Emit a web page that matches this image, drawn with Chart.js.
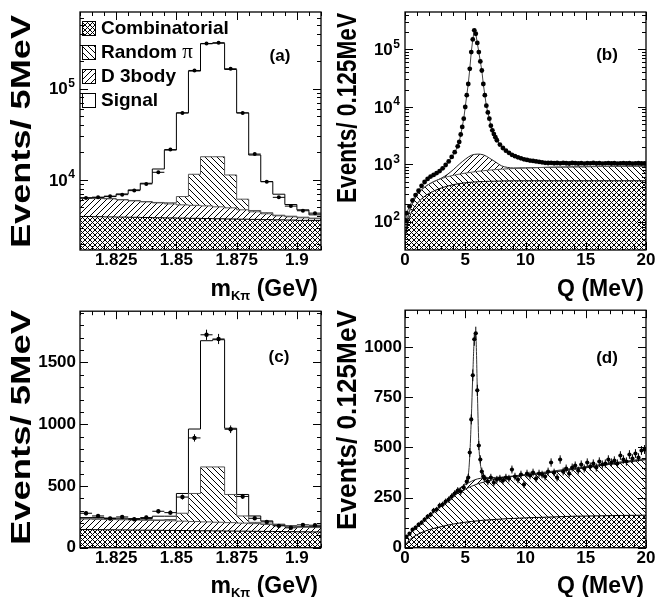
<!DOCTYPE html>
<html>
<head>
<meta charset="utf-8">
<script src="https://cdn.jsdelivr.net/npm/chart.js@4.4.1/dist/chart.umd.min.js"></script>
<style>
  body { margin: 0; background: #fff; }
  #wrap { position: relative; width: 668px; height: 597px; background: #fff; }
  #wrap canvas { position: absolute; }
</style>
</head>
<body>
<div id="wrap">
  <canvas id="panelA" width="334" height="302" style="left:0;top:0"></canvas>
  <canvas id="panelB" width="334" height="302" style="left:334px;top:0"></canvas>
  <canvas id="panelC" width="334" height="300" style="left:0;top:297px"></canvas>
  <canvas id="panelD" width="334" height="300" style="left:334px;top:297px"></canvas>
</div>
<script>
const FONT = "'Liberation Sans', Arial, Helvetica, sans-serif";

// m(K pi) histograms: 1.81 - 1.91 GeV, 5 MeV bins
const MASS_MIN = 1.81;
const MASS_MAX = 1.91;
const MASS_BIN = 0.005;
const massTickLabels = [1.825, 1.85, 1.875, 1.9];
const qTickLabels = [0, 5, 10, 15, 20];
const cTickLabels = [0, 500, 1000, 1500];
const dTickLabels = [0, 250, 500, 750, 1000];

// panel (a) - yields per bin
const aComb = [3980, 3960, 3940, 3920, 3900, 3880, 3860, 3840, 3820, 3800, 3780, 3760, 3740, 3720, 3700, 3680, 3660, 3640, 3610, 3590];
const aThreeBody = [2320, 2290, 2270, 2130, 2000, 1870, 1750, 1630, 1515, 1470, 1420, 1320, 1210, 990, 780, 580, 390, 310, 240, 170];
const aRandomPi = [60, 60, 60, 60, 60, 60, 60, 150, 1245, 6270, 12750, 12870, 6390, 1450, 150, 120, 60, 60, 60, 60];
const aSignal = [50, 100, 310, 920, 1820, 3390, 7510, 15620, 47620, 144060, 291750, 296050, 150660, 48040, 14110, 5200, 2870, 1370, 800, 330];
const aData = [6340, 6480, 6650, 6900, 7640, 9050, 12130, 21500, 54200, 158000, 312000, 318000, 165000, 54200, 19200, 9580, 6450, 5170, 4600, 4330];

// panel (c) - yields per bin
const cComb = [147, 146, 145, 144, 143, 142, 141, 140, 139, 138, 137, 136, 135, 134, 133, 132, 131, 130, 129, 128];
const cThreeBody = [85, 84, 83, 82, 81, 80, 79, 78, 76, 74, 72, 70, 68, 65, 62, 56, 49, 40, 36, 35];
const cRandomPi = [5, 5, 5, 5, 5, 5, 5, 10, 64, 227, 445, 448, 228, 58, 10, 4, 4, 4, 4, 4];
const cSignal = [7, 9, 7, 7, 7, 9, 30, 27, 160, 522, 1022, 1030, 536, 174, 52, 25, 6, 3, 3, 5];
const cData = [279, 257, 236, 249, 230, 244, 295, 284, 410, 889, 1724, 1690, 959, 415, 238, 209, 177, 161, 185, 182];

// Q curves (b) and (d): fit components on a common grid
const curveQ = [0, 0.25, 0.5, 1, 1.5, 2, 2.5, 3, 3.5, 4, 4.5, 5, 5.5, 6, 6.5, 7, 7.5, 8, 8.5, 9, 10, 12, 14, 16, 18, 20];
const bComb = [50, 95, 140, 205, 262, 310, 350, 385, 415, 440, 460, 475, 486, 495, 500, 505, 508, 511, 513, 514, 515, 515, 515, 515, 515, 515];
const bRandomPi = [5, 25, 40, 85, 118, 140, 160, 175, 190, 200, 212, 225, 239, 255, 270, 285, 297, 309, 319, 328, 345, 370, 385, 397, 407, 415];
const bThreeBody = [0, 0, 0, 0, 0, 0, 0, 10, 55, 160, 328, 520, 705, 750, 690, 490, 295, 120, 48, 18, 5, 0, 0, 0, 0, 0];
const dComb = [10, 32, 45, 65, 79, 90, 98, 105, 112, 118, 123, 127, 131, 134, 137, 139, 141, 143, 145, 146, 149, 153, 157, 159, 161, 162];
const dRandomPi = [30, 28, 30, 40, 54, 70, 88, 105, 123, 140, 153, 165, 175, 184, 190, 196, 201, 205, 207, 210, 213, 222, 235, 249, 263, 278];
const dThreeBody = [0, 0, 0, 0, 0, 0, 0, 0, 3, 12, 18, 22, 25, 25, 20, 12, 5, 2, 0, 0, 0, 0, 0, 0, 0, 0];

// panel (d) total fit
const dFitQ = [0, 0.25, 0.5, 1, 1.5, 2, 2.5, 3, 3.5, 4, 4.5, 5, 5.25, 5.375, 5.5, 5.625, 5.75, 5.875, 6, 6.125, 6.25, 6.5, 7, 8, 9, 10, 12, 14, 16, 18, 20];
const dFit = [45, 62, 78, 108, 136, 162, 188, 212, 240, 272, 296, 322, 360, 460, 640, 860, 1040, 1060, 790, 520, 420, 365, 350, 352, 358, 365, 380, 397, 413, 429, 445];

// panel (b) data points
const bDataQ = [0.0625, 0.125, 0.375, 0.625, 0.875, 1.125, 1.375, 1.625, 1.875, 2.125, 2.375, 2.625, 2.875, 3.125, 3.375, 3.625, 3.875,
  4.125, 4.375, 4.5, 4.625, 4.75, 4.875, 5, 5.125, 5.25, 5.375, 5.5, 5.625, 5.75, 5.875, 6, 6.125, 6.25, 6.375, 6.5, 6.625, 6.75, 6.875,
  7, 7.125, 7.25, 7.375, 7.5, 7.625, 7.875, 8.125, 8.375, 8.625, 8.875, 9.125, 9.375, 9.625, 9.875, 10.125, 10.375, 10.625, 10.875,
  11.125, 11.375, 11.625, 11.875, 12.125, 12.375, 12.625, 12.875, 13.125, 13.375, 13.625, 13.875, 14.125, 14.375, 14.625, 14.875,
  15.125, 15.375, 15.625, 15.875, 16.125, 16.375, 16.625, 16.875, 17.125, 17.375, 17.625, 17.875, 18.125, 18.375, 18.625, 18.875,
  19.125, 19.375, 19.625, 19.875];
const bData = [105, 140, 185, 235, 290, 345, 420, 490, 555, 610, 650, 700, 760, 850, 970, 1120, 1340,
  1620, 2050, 2450, 3300, 4460, 6230, 9950, 16000, 25000, 46000, 90000, 150000, 216000, 188000, 130000, 90000, 62000, 43000, 25000, 16000, 10500, 8000,
  6230, 4700, 3900, 3350, 2950, 2620, 2200, 1920, 1720, 1580, 1460, 1380, 1320, 1270, 1220, 1190, 1160, 1140, 1120,
  1100, 1080, 1060, 1050, 1060, 1040, 1050, 1035, 1055, 1040, 1030, 1050, 1040, 1030, 1045, 1025,
  1040, 1035, 1050, 1030, 1040, 1025, 1035, 1045, 1030, 1040, 1025, 1035, 1045, 1030, 1040, 1025,
  1035, 1040, 1030, 1035];

// panel (d) data points
const dDataQ = [0.125, 0.375, 0.625, 0.875, 1.125, 1.375, 1.625, 1.875, 2.125, 2.375, 2.625, 2.875, 3.125, 3.375, 3.625, 3.875, 4.125, 4.375, 4.625, 4.875,
  5.125, 5.25, 5.375, 5.5, 5.625, 5.75, 5.875, 6, 6.125, 6.25, 6.375, 6.5, 6.625,
  6.875, 7.125, 7.375, 7.625, 7.875, 8.125, 8.375, 8.625, 8.875, 9.125, 9.375, 9.625, 9.875, 10.125, 10.375, 10.625, 10.875,
  11.125, 11.375, 11.625, 11.875, 12.125, 12.375, 12.625, 12.875, 13.125, 13.375, 13.625, 13.875, 14.125, 14.375, 14.625, 14.875,
  15.125, 15.375, 15.625, 15.875, 16.125, 16.375, 16.625, 16.875, 17.125, 17.375, 17.625, 17.875, 18.125, 18.375, 18.625, 18.875,
  19.125, 19.375, 19.625, 19.875];
const dData = [55, 70, 90, 100, 115, 125, 140, 155, 165, 185, 190, 210, 215, 230, 240, 255, 270, 285, 280, 300,
  330, 350, 475, 640, 860, 1040, 1070, 785, 510, 440, 380, 355, 345,
  330, 350, 325, 340, 345, 335, 350, 345, 390, 355, 340, 365, 315, 370, 360, 375, 345,
  370, 365, 355, 380, 425, 375, 350, 440, 380, 395, 370, 400, 410, 385, 415, 395,
  425, 405, 420, 400, 430, 415, 420, 440, 425, 435, 420, 460, 440, 430, 465, 445,
  470, 450, 485, 490];

// cumulative tops of stacked components
function stackLayers(layers) {
  const out = [];
  let run = layers[0].map(() => 0);
  layers.forEach(layer => {
    run = run.map((v, i) => v + layer[i]);
    out.push(run);
  });
  return out;
}

function histPoints(values) {
  const pts = values.map((v, i) => ({ x: MASS_MIN + i * MASS_BIN, y: v }));
  pts.push({ x: MASS_MAX, y: values[values.length - 1] });
  return pts;
}

function binCentres(values) {
  return values.map((v, i) => ({ x: MASS_MIN + (i + 0.5) * MASS_BIN, y: v }));
}

function pairPoints(xs, ys) {
  return xs.map((x, i) => ({ x: x, y: ys[i] }));
}

function steps(from, to, step) {
  const out = [];
  const n = Math.round((to - from) / step);
  for (let i = 0; i <= n; i++) out.push(from + i * step);
  return out;
}

function logTicks(min, max) {
  const major = [], minor = [];
  for (let d = Math.floor(Math.log10(min)); d <= Math.ceil(Math.log10(max)); d++) {
    for (let k = 1; k <= 9; k++) {
      const v = k * Math.pow(10, d);
      if (v < min || v > max) continue;
      (k === 1 ? major : minor).push(v);
    }
  }
  return { major, minor };
}

// hatch fill patterns
function makeHatch(ctx, kind, size) {
  const c = document.createElement('canvas');
  c.width = size;
  c.height = size;
  const g = c.getContext('2d');
  g.strokeStyle = '#000';
  g.lineWidth = 1;
  g.beginPath();
  if (kind === '/' || kind === 'x') {
    g.moveTo(-1, size + 1); g.lineTo(size + 1, -1);
    g.moveTo(-1, 1); g.lineTo(1, -1);
    g.moveTo(size - 1, size + 1); g.lineTo(size + 1, size - 1);
  }
  if (kind === '\\' || kind === 'x') {
    g.moveTo(-1, -1); g.lineTo(size + 1, size + 1);
    g.moveTo(-1, size - 1); g.lineTo(1, size + 1);
    g.moveTo(size - 1, -1); g.lineTo(size + 1, 1);
  }
  g.stroke();
  return ctx.createPattern(c, 'repeat');
}

function tickMarks(ctx, area, scale, values, len, horizontal) {
  values.forEach(v => {
    const p = Math.round(scale.getPixelForValue(v)) + 0.5;
    if (horizontal) {
      ctx.moveTo(p, area.bottom); ctx.lineTo(p, area.bottom - len);
      ctx.moveTo(p, area.top); ctx.lineTo(p, area.top + len);
    } else {
      ctx.moveTo(area.left, p); ctx.lineTo(area.left + len, p);
      ctx.moveTo(area.right, p); ctx.lineTo(area.right - len, p);
    }
  });
}

function drawLogLabels(ctx, ys, decades, right) {
  decades.forEach(v => {
    const py = ys.getPixelForValue(v);
    const exp = String(Math.round(Math.log10(v)));
    ctx.font = `bold 12px ${FONT}`;
    const we = ctx.measureText(exp).width;
    ctx.textAlign = 'left';
    ctx.textBaseline = 'middle';
    ctx.fillText(exp, right - we, py - 5);
    ctx.font = `bold 17px ${FONT}`;
    ctx.textAlign = 'right';
    ctx.fillText('10', right - we - 0.5, py + 1);
  });
}

function drawYTitle(ctx, t) {
  ctx.save();
  ctx.font = `bold 27px ${FONT}`;
  const w = ctx.measureText(t.text).width;
  ctx.translate(t.cx, t.top);
  ctx.rotate(-Math.PI / 2);
  ctx.scale((t.bottom - t.top) / w, 1);
  ctx.textAlign = 'right';
  ctx.textBaseline = 'middle';
  ctx.fillText(t.text, 0, 0);
  ctx.restore();
}

function drawXTitle(ctx, t) {
  let total = 0;
  const widths = t.parts.map(p => {
    ctx.font = `bold ${p.size}px ${FONT}`;
    const w = ctx.measureText(p.text).width;
    total += w;
    return w;
  });
  let x = t.right - total;
  ctx.textAlign = 'left';
  ctx.textBaseline = 'alphabetic';
  t.parts.forEach((p, i) => {
    ctx.font = `bold ${p.size}px ${FONT}`;
    ctx.fillText(p.text, x, t.baseline + p.dy);
    x += widths[i];
  });
}

function drawLegend(ctx, hatch) {
  const rows = [
    ['Combinatorial', hatch.cross, ''],
    ['Random ', hatch.back, '\u03c0'],
    ['D 3body', hatch.slash, ''],
    ['Signal', null, '']
  ];
  rows.forEach((r, i) => {
    const cy = 28 + i * 24;
    if (r[1]) {
      ctx.fillStyle = r[1];
      ctx.fillRect(82, cy - 6, 13, 14);
    }
    ctx.fillStyle = '#000';
    ctx.lineWidth = 1;
    ctx.strokeRect(82.5, cy - 6.5, 13, 14);
    ctx.font = `bold 19px ${FONT}`;
    ctx.textAlign = 'left';
    ctx.textBaseline = 'middle';
    ctx.fillText(r[0], 101, cy + 1);
    if (r[2]) {
      const w = ctx.measureText(r[0]).width;
      ctx.font = `21px 'Liberation Serif', 'DejaVu Serif', serif`;
      ctx.fillText(r[2], 101 + w, cy);
    }
  });
}

function decorPlugin(cfg, hatch) {
  return {
    id: 'decor',
    afterDatasetsDraw(chart) {
      if (!cfg.errors) return;
      const ctx = chart.ctx;
      const xs = chart.scales.x;
      const ys = chart.scales.y;
      const ds = chart.data.datasets[cfg.errors.index];
      ctx.save();
      ctx.strokeStyle = '#000';
      ctx.lineWidth = 1;
      ctx.beginPath();
      ds.data.forEach(p => {
        const px = xs.getPixelForValue(p.x);
        const py = ys.getPixelForValue(p.y);
        const e = Math.sqrt(p.y);
        if (cfg.errors.dx) {
          ctx.moveTo(xs.getPixelForValue(p.x - cfg.errors.dx), py);
          ctx.lineTo(xs.getPixelForValue(p.x + cfg.errors.dx), py);
        }
        ctx.moveTo(px, ys.getPixelForValue(p.y - e));
        ctx.lineTo(px, ys.getPixelForValue(p.y + e));
      });
      ctx.stroke();
      ctx.restore();
    },
    afterDraw(chart) {
      const ctx = chart.ctx;
      const area = chart.chartArea;
      const xs = chart.scales.x;
      const ys = chart.scales.y;
      ctx.save();
      ctx.strokeStyle = '#000';
      ctx.fillStyle = '#000';
      ctx.lineWidth = 1;
      ctx.beginPath();
      tickMarks(ctx, area, xs, cfg.xMajor, 8, true);
      tickMarks(ctx, area, xs, cfg.xMinor, 4, true);
      tickMarks(ctx, area, ys, cfg.yMajor, 8, false);
      tickMarks(ctx, area, ys, cfg.yMinor, 4, false);
      ctx.stroke();
      ctx.lineWidth = 1.3;
      ctx.strokeRect(area.left, area.top, area.right - area.left, area.bottom - area.top);
      if (cfg.logLabels) drawLogLabels(ctx, ys, cfg.logLabels, cfg.labelRight);
      drawYTitle(ctx, cfg.yTitle);
      drawXTitle(ctx, cfg.xTitle);
      ctx.font = `bold 17px ${FONT}`;
      ctx.textAlign = 'center';
      ctx.textBaseline = 'middle';
      ctx.fillText(cfg.tag.text, cfg.tag.x, cfg.tag.y);
      if (cfg.legend) drawLegend(ctx, hatch);
      ctx.restore();
    }
  };
}

function tickFont() {
  return { family: FONT, size: 17, weight: 'bold' };
}

function xAxis(cfg) {
  return {
    type: 'linear',
    min: cfg.xMin,
    max: cfg.xMax,
    grid: { display: false, drawTicks: false },
    border: { display: false },
    afterBuildTicks: s => { s.ticks = cfg.xLabels.map(v => ({ value: v })); },
    afterFit: s => { s.height = cfg.xHeight; },
    ticks: { font: tickFont(), color: '#000', padding: 0, maxRotation: 0, autoSkip: false, callback: v => String(+v.toFixed(3)) }
  };
}

function yAxis(cfg) {
  const axis = {
    type: cfg.yLog ? 'logarithmic' : 'linear',
    min: cfg.yMin,
    max: cfg.yMax,
    grid: { display: false, drawTicks: false },
    border: { display: false },
    afterFit: s => { s.width = cfg.yWidth; }
  };
  if (cfg.yLog) {
    axis.ticks = { display: false };
  } else {
    axis.afterBuildTicks = s => { s.ticks = cfg.yLabels.map(v => ({ value: v })); };
    axis.ticks = { font: tickFont(), color: '#000', padding: cfg.yPad, autoSkip: false, callback: v => String(v) };
  }
  return axis;
}

function makeChart(id, cfg) {
  const ctx = document.getElementById(id).getContext('2d');
  const hatch = {
    cross: makeHatch(ctx, 'x', 5),
    slash: makeHatch(ctx, '/', 6),
    back: makeHatch(ctx, '\\', 6)
  };
  return new Chart(ctx, {
    type: 'line',
    data: { datasets: cfg.datasets(hatch) },
    options: {
      responsive: false,
      animation: false,
      devicePixelRatio: 1,
      events: [],
      layout: { padding: { left: 0, top: 12, right: cfg.padRight, bottom: 0 } },
      plugins: { legend: { display: false }, tooltip: { enabled: false } },
      elements: { point: { radius: 0, hoverRadius: 0 }, line: { borderWidth: 1 } },
      scales: { x: xAxis(cfg), y: yAxis(cfg) }
    },
    plugins: [decorPlugin(cfg, hatch)]
  });
}

function histLayer(values, fill, bg, color) {
  return { data: histPoints(values), stepped: true, fill: fill, backgroundColor: bg, borderColor: color, borderWidth: 1, pointRadius: 0 };
}

function curveLayer(xs, values, fill, bg, color) {
  return { data: pairPoints(xs, values), cubicInterpolationMode: 'monotone', fill: fill, backgroundColor: bg, borderColor: color, borderWidth: 1, pointRadius: 0 };
}

function dataLayer(points, radius, line) {
  return {
    data: points, showLine: !!line, borderColor: line || '#000', borderWidth: 1,
    pointRadius: radius, pointBackgroundColor: '#000', pointBorderColor: '#000', pointBorderWidth: 0, order: -1
  };
}

const massTitle = [
  { text: 'm', size: 23, dy: 0 },
  { text: 'K\u03c0', size: 13, dy: 4 },
  { text: ' (GeV)', size: 23, dy: 0 }
];
const qTitle = [{ text: 'Q (MeV)', size: 23, dy: 0 }];

// (a) m(K pi), log scale
const aTicks = logTicks(1710, 690000);
const aStack = stackLayers([aComb, aThreeBody, aRandomPi, aSignal]);
makeChart('panelA', {
  padRight: 13, yWidth: 80, xHeight: 52,
  xMin: MASS_MIN, xMax: MASS_MAX, xLabels: massTickLabels,
  yLog: true, yMin: 1710, yMax: 690000,
  xMajor: massTickLabels, xMinor: steps(MASS_MIN, MASS_MAX, MASS_BIN),
  yMajor: aTicks.major, yMinor: aTicks.minor,
  logLabels: [1e4, 1e5], labelRight: 75,
  yTitle: { text: 'Events/ 5MeV', cx: 23, top: 15, bottom: 248 },
  xTitle: { parts: massTitle, right: 318, baseline: 296 },
  tag: { text: '(a)', x: 280, y: 56 },
  legend: true,
  errors: { index: 4, dx: MASS_BIN / 2 },
  datasets: h => [
    histLayer(aStack[0], 'start', h.cross, '#000'),
    histLayer(aStack[1], '-1', h.slash, '#555'),
    histLayer(aStack[2], '-1', h.back, '#555'),
    histLayer(aStack[3], false, 'rgba(0,0,0,0)', '#000'),
    dataLayer(binCentres(aData), 2)
  ]
});

// (b) Q, log scale
const bTicks = logTicks(32, 450000);
const bStack = stackLayers([bComb, bRandomPi, bThreeBody]);
makeChart('panelB', {
  padRight: 22, yWidth: 71, xHeight: 52,
  xMin: 0, xMax: 20, xLabels: qTickLabels,
  yLog: true, yMin: 32, yMax: 450000,
  xMajor: qTickLabels, xMinor: steps(0, 20, 1),
  yMajor: bTicks.major, yMinor: bTicks.minor,
  logLabels: [1e2, 1e3, 1e4, 1e5], labelRight: 66,
  yTitle: { text: 'Events/ 0.125MeV', cx: 15, top: 13, bottom: 203 },
  xTitle: { parts: qTitle, right: 310, baseline: 296 },
  tag: { text: '(b)', x: 273, y: 55 },
  legend: false,
  errors: null,
  datasets: h => [
    curveLayer(curveQ, bStack[0], 'start', h.cross, '#000'),
    curveLayer(curveQ, bStack[1], '-1', h.back, '#555'),
    curveLayer(curveQ, bStack[2], '-1', h.slash, '#222'),
    dataLayer(pairPoints(bDataQ, bData), 2.4, '#444')
  ]
});

// (c) m(K pi), linear scale
const cStack = stackLayers([cComb, cThreeBody, cRandomPi, cSignal]);
makeChart('panelC', {
  padRight: 13, yWidth: 80, xHeight: 49.3,
  xMin: MASS_MIN, xMax: MASS_MAX, xLabels: massTickLabels,
  yLog: false, yMin: 0, yMax: 1915, yLabels: cTickLabels, yPad: 4,
  xMajor: massTickLabels, xMinor: steps(MASS_MIN, MASS_MAX, MASS_BIN),
  yMajor: cTickLabels, yMinor: steps(0, 1900, 100),
  logLabels: null,
  yTitle: { text: 'Events/ 5MeV', cx: 23, top: 13, bottom: 248 },
  xTitle: { parts: massTitle, right: 318, baseline: 296 },
  tag: { text: '(c)', x: 279, y: 60 },
  legend: false,
  errors: { index: 4, dx: MASS_BIN / 2 },
  datasets: h => [
    histLayer(cStack[0], 'start', h.cross, '#000'),
    histLayer(cStack[1], '-1', h.slash, '#555'),
    histLayer(cStack[2], '-1', h.back, '#555'),
    histLayer(cStack[3], false, 'rgba(0,0,0,0)', '#000'),
    dataLayer(binCentres(cData), 2.2)
  ]
});

// (d) Q, linear scale
const dStack = stackLayers([dComb, dRandomPi, dThreeBody]);
makeChart('panelD', {
  padRight: 22, yWidth: 71, xHeight: 49.3,
  xMin: 0, xMax: 20, xLabels: qTickLabels,
  yLog: false, yMin: 0, yMax: 1185, yLabels: dTickLabels, yPad: 3,
  xMajor: qTickLabels, xMinor: steps(0, 20, 1),
  yMajor: dTickLabels, yMinor: steps(0, 1150, 50),
  logLabels: null,
  yTitle: { text: 'Events/ 0.125MeV', cx: 15, top: 13, bottom: 233 },
  xTitle: { parts: qTitle, right: 310, baseline: 296 },
  tag: { text: '(d)', x: 273, y: 61 },
  legend: false,
  errors: { index: 4, dx: 0.0625 },
  datasets: h => [
    curveLayer(curveQ, dStack[0], 'start', h.cross, '#000'),
    curveLayer(curveQ, dStack[1], '-1', h.back, '#222'),
    curveLayer(curveQ, dStack[2], '-1', h.slash, '#222'),
    curveLayer(dFitQ, dFit, false, 'rgba(0,0,0,0)', '#333'),
    dataLayer(pairPoints(dDataQ, dData), 2.1)
  ]
});
</script>
</body>
</html>
